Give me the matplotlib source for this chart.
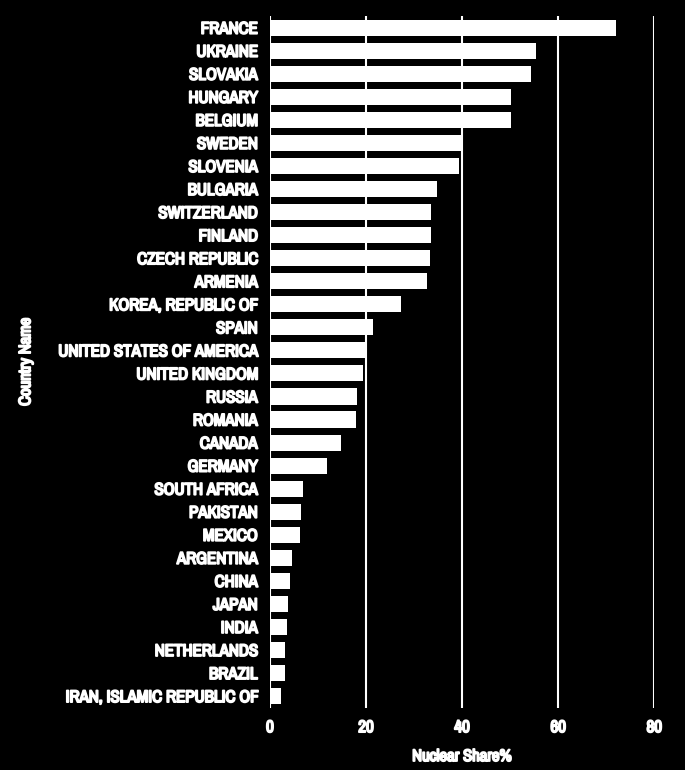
import matplotlib
matplotlib.use('Agg')
import matplotlib.pyplot as plt
import matplotlib.patheffects as pe

countries = ['FRANCE', 'UKRAINE', 'SLOVAKIA', 'HUNGARY', 'BELGIUM', 'SWEDEN',
             'SLOVENIA', 'BULGARIA', 'SWITZERLAND', 'FINLAND', 'CZECH REPUBLIC',
             'ARMENIA', 'KOREA, REPUBLIC OF', 'SPAIN', 'UNITED STATES OF AMERICA',
             'UNITED KINGDOM', 'RUSSIA', 'ROMANIA', 'CANADA', 'GERMANY',
             'SOUTH AFRICA', 'PAKISTAN', 'MEXICO', 'ARGENTINA', 'CHINA', 'JAPAN',
             'INDIA', 'NETHERLANDS', 'BRAZIL', 'IRAN, ISLAMIC REPUBLIC OF']
share = [72.0, 55.5, 54.3, 50.2, 50.2, 39.9, 39.3, 34.7, 33.6, 33.6, 33.4,
         32.7, 27.3, 21.4, 20.1, 19.4, 18.1, 17.9, 14.8, 11.8, 6.8, 6.4, 6.3,
         4.7, 4.1, 3.7, 3.5, 3.1, 3.1, 2.4]
xticks = [0, 20, 40, 60, 80]

# narrow font like the original, DejaVu as a fallback
plt.rcParams['font.family'] = ['Archivo Narrow', 'DejaVu Sans']
plt.rcParams['font.weight'] = 'bold'

fig = plt.figure(figsize=(6.85, 7.7), dpi=100, facecolor='black')
ax = fig.add_axes([0.394, 0.081, 0.561, 0.898], facecolor='black')

pos = list(range(len(countries)))
ax.barh(pos, share, height=0.7, color='white', zorder=2)
ax.set_ylim(len(countries) - 0.5, -0.5)
ax.set_yticks(pos)
ax.set_yticklabels(countries)
ax.set_xlim(0, 80)
ax.set_xticks(xticks)

ax.grid(axis='x', color='white', linewidth=1.5)
ax.set_axisbelow(True)
for s in ax.spines.values():
    s.set_visible(False)
ax.tick_params(colors='white', length=0, labelsize=12.2, pad=9)

ax.set_xlabel('Nuclear Share%', color='white', fontsize=12, labelpad=10)
ax.set_ylabel('Country Name', color='white', fontsize=12, labelpad=18)

# the original text is very heavy, thicken the glyphs with a stroke
heavy = [pe.withStroke(linewidth=1.3, foreground='white')]
for t in ax.get_xticklabels() + ax.get_yticklabels() + [ax.xaxis.label, ax.yaxis.label]:
    t.set_path_effects(heavy)

fig.savefig('out.png', dpi=100, facecolor='black')
